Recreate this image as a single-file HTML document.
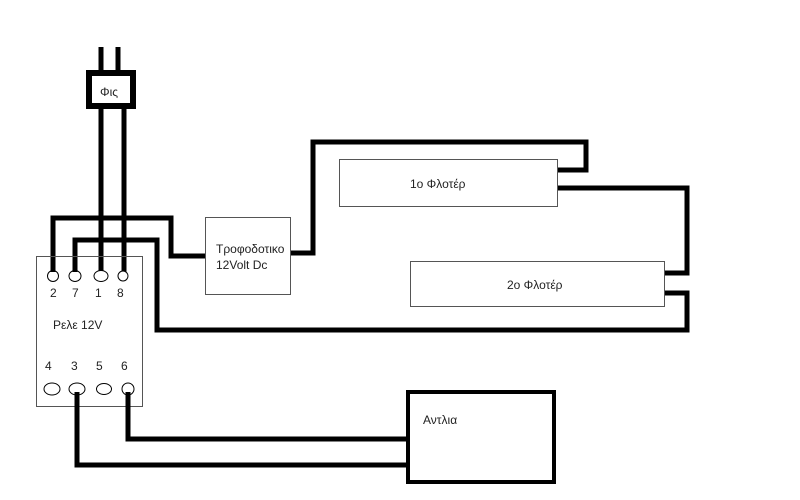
<!DOCTYPE html>
<html><head><meta charset="utf-8"><style>
html,body{margin:0;padding:0;background:#fff;}
svg{display:block;}
text{font-family:"Liberation Sans",sans-serif;font-size:12px;fill:#222;}
</style></head><body>
<svg width="800" height="500" viewBox="0 0 800 500" xmlns="http://www.w3.org/2000/svg">
<g fill="none" stroke="#000" stroke-width="5" stroke-linejoin="miter">
<line x1="101" y1="47" x2="101" y2="74"/>
<line x1="118" y1="47" x2="118" y2="74"/>
<rect x="89" y="73" width="44" height="33" stroke-width="6"/>
<line x1="101" y1="106" x2="101" y2="271"/>
<line x1="124" y1="106" x2="124" y2="272"/>
<polyline points="53,271 53,218 171,218 171,256 206,256"/>
<polyline points="75,271 75,240 157,240 157,330 687,330 687,293 664,293"/>
<polyline points="290,253 313,253 313,142 586,142 586,170 556,170"/>
<polyline points="556,188 687,188 687,273 664,273"/>
<polyline points="128,392 128,439 407,439"/>
<polyline points="77,392 77,465 407,465"/>
</g>
<rect x="99" y="79" width="29" height="24" fill="#fff"/>
<text x="100" y="96">Φις</text>
<rect x="36.5" y="256.5" width="106" height="150" fill="none" stroke="#555" stroke-width="1"/>
<g fill="#fff" stroke="#000" stroke-width="1">
<ellipse cx="53" cy="276" rx="5.5" ry="5.5"/>
<ellipse cx="75" cy="276" rx="6" ry="5.5"/>
<ellipse cx="101" cy="276" rx="7" ry="5.5"/>
<ellipse cx="123" cy="276" rx="5" ry="5"/>
<ellipse cx="52" cy="389" rx="8" ry="6"/>
<ellipse cx="77" cy="389" rx="8" ry="6"/>
<ellipse cx="104" cy="389" rx="7.5" ry="5.5"/>
<ellipse cx="128" cy="389" rx="6" ry="6"/>
</g>
<g stroke="#000" stroke-width="5">
<line x1="53" y1="262" x2="53" y2="272"/>
<line x1="75" y1="262" x2="75" y2="272"/>
<line x1="77" y1="392" x2="77" y2="410"/>
<line x1="128" y1="392" x2="128" y2="410"/>
</g>
<text x="50" y="297">2</text><text x="72" y="297">7</text><text x="95" y="297">1</text><text x="117" y="297">8</text>
<text x="53" y="329">Ρελε 12V</text>
<text x="45" y="370">4</text><text x="71" y="370">3</text><text x="96" y="370">5</text><text x="121" y="370">6</text>
<rect x="205.5" y="217.5" width="85" height="77" fill="#fff" stroke="#555" stroke-width="1"/>
<text x="216" y="253">Τροφοδοτικο</text>
<text x="216" y="269">12Volt Dc</text>
<rect x="339.5" y="159.5" width="218" height="47" fill="#fff" stroke="#555" stroke-width="1"/>
<text x="410" y="188">1ο Φλοτέρ</text>
<rect x="410.5" y="261.5" width="254" height="45" fill="#fff" stroke="#555" stroke-width="1"/>
<text x="507" y="289">2ο Φλοτέρ</text>
<rect x="408" y="392" width="146" height="90" fill="#fff" stroke="#000" stroke-width="4"/>
<text x="423" y="424">Αντλια</text>
</svg>
</body></html>
